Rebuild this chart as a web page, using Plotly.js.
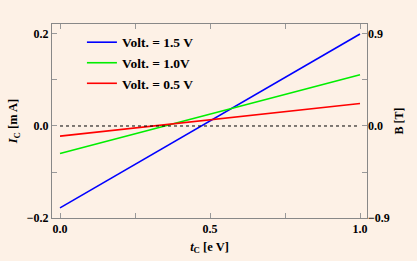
<!DOCTYPE html>
<html><head><meta charset="utf-8">
<script src="https://cdn.plot.ly/plotly-3.0.1.min.js"></script>
<style>html,body{margin:0;padding:0;background:#FDF1E6;}</style>
</head><body>
<div id="chart" style="width:417px;height:261px;"></div>
<script>
const xVals = [0, 1];
const seriesNames = ["Volt. = 1.5 V", "Volt. = 1.0V", "Volt. = 0.5 V"];
const blueVals = [-0.178, 0.200];
const greenVals = [-0.060, 0.1115];
const redVals = [-0.022, 0.049];
const colors = ["#0000FF", "#00EE00", "#FF0000"];
const xTickVals = [0, 0.5, 1.0];
const xTickText = ["0.0", "0.5", "1.0"];
const yTickVals = [-0.2, 0, 0.2];
const yTickText = ["\u22120.2", "0.0", "0.2"];
const y2TickVals = [-0.9, 0, 0.9];
const y2TickText = ["\u22120.9", "0.0", "0.9"];

const tf = {family: "Liberation Serif", size: 12, color: "#000", weight: "bold"};
const allSeries = [blueVals, greenVals, redVals];
const traces = allSeries.map((v, i) => ({
  x: xVals, y: v, type: "scatter", mode: "lines", name: seriesNames[i],
  line: {color: colors[i], width: 1.6}
}));
traces.push({x: xVals, y: [0, 0], type: "scatter", mode: "lines", showlegend: false,
  line: {color: "#000", width: 1, dash: "dot"}, hoverinfo: "skip"});
traces.push({x: xVals, y: [0, 0], yaxis: "y2", type: "scatter", mode: "lines", showlegend: false,
  line: {color: "rgba(0,0,0,0)", width: 0}, hoverinfo: "skip"});

const minor = (d) => ({dtick: d, ticks: "inside", ticklen: 5, tickcolor: "#999", showgrid: false});
const layout = {
  width: 417, height: 261,
  margin: {l: 52, r: 50, t: 24, b: 43},
  paper_bgcolor: "#FDF1E6", plot_bgcolor: "#FDF1E6",
  font: {family: "Liberation Serif", size: 12, color: "#000"},
  showlegend: true,
  legend: {x: 0.095, y: 0.985, xanchor: "left", yanchor: "top", bgcolor: "rgba(0,0,0,0)",
    font: {family: "Liberation Serif", size: 13.5, color: "#000", weight: "bold"}, tracegroupgap: 0},
  xaxis: {
    range: [-0.0267, 1.0233], tickvals: xTickVals, ticktext: xTickText,
    minor: minor(0.25),
    ticks: "inside", ticklen: 5, tickcolor: "#999", showgrid: false, zeroline: false,
    showline: true, linecolor: "#888", linewidth: 1, mirror: "ticks",
    tickfont: tf,
    title: {text: "<i>t</i><sub>C</sub> [e V]", standoff: 6,
      font: {family: "Liberation Serif", size: 12.5, color: "#000", weight: "bold"}}
  },
  yaxis: {
    range: [-0.2, 0.2217], tickvals: yTickVals, ticktext: yTickText,
    minor: minor(0.1),
    ticks: "inside", ticklen: 5, tickcolor: "#999", showgrid: false, zeroline: false,
    showline: true, linecolor: "#888", linewidth: 1, mirror: true,
    tickfont: tf,
    title: {text: "<i>I</i><sub>C</sub> [m A]", standoff: 6,
      font: {family: "Liberation Serif", size: 12.5, color: "#000", weight: "bold"}}
  },
  yaxis2: {
    overlaying: "y", side: "right",
    range: [-0.9, 0.9977], tickvals: y2TickVals, ticktext: y2TickText,
    minor: minor(0.45),
    ticks: "inside", ticklen: 5, tickcolor: "#999", showgrid: false, zeroline: false,
    showline: false,
    tickfont: tf,
    title: {text: "B [T]", standoff: 5,
      font: {family: "Liberation Serif", size: 12, color: "#000", weight: "bold"}}
  }
};
Plotly.newPlot("chart", traces, layout, {displayModeBar: false, staticPlot: true});
</script>
</body></html>
